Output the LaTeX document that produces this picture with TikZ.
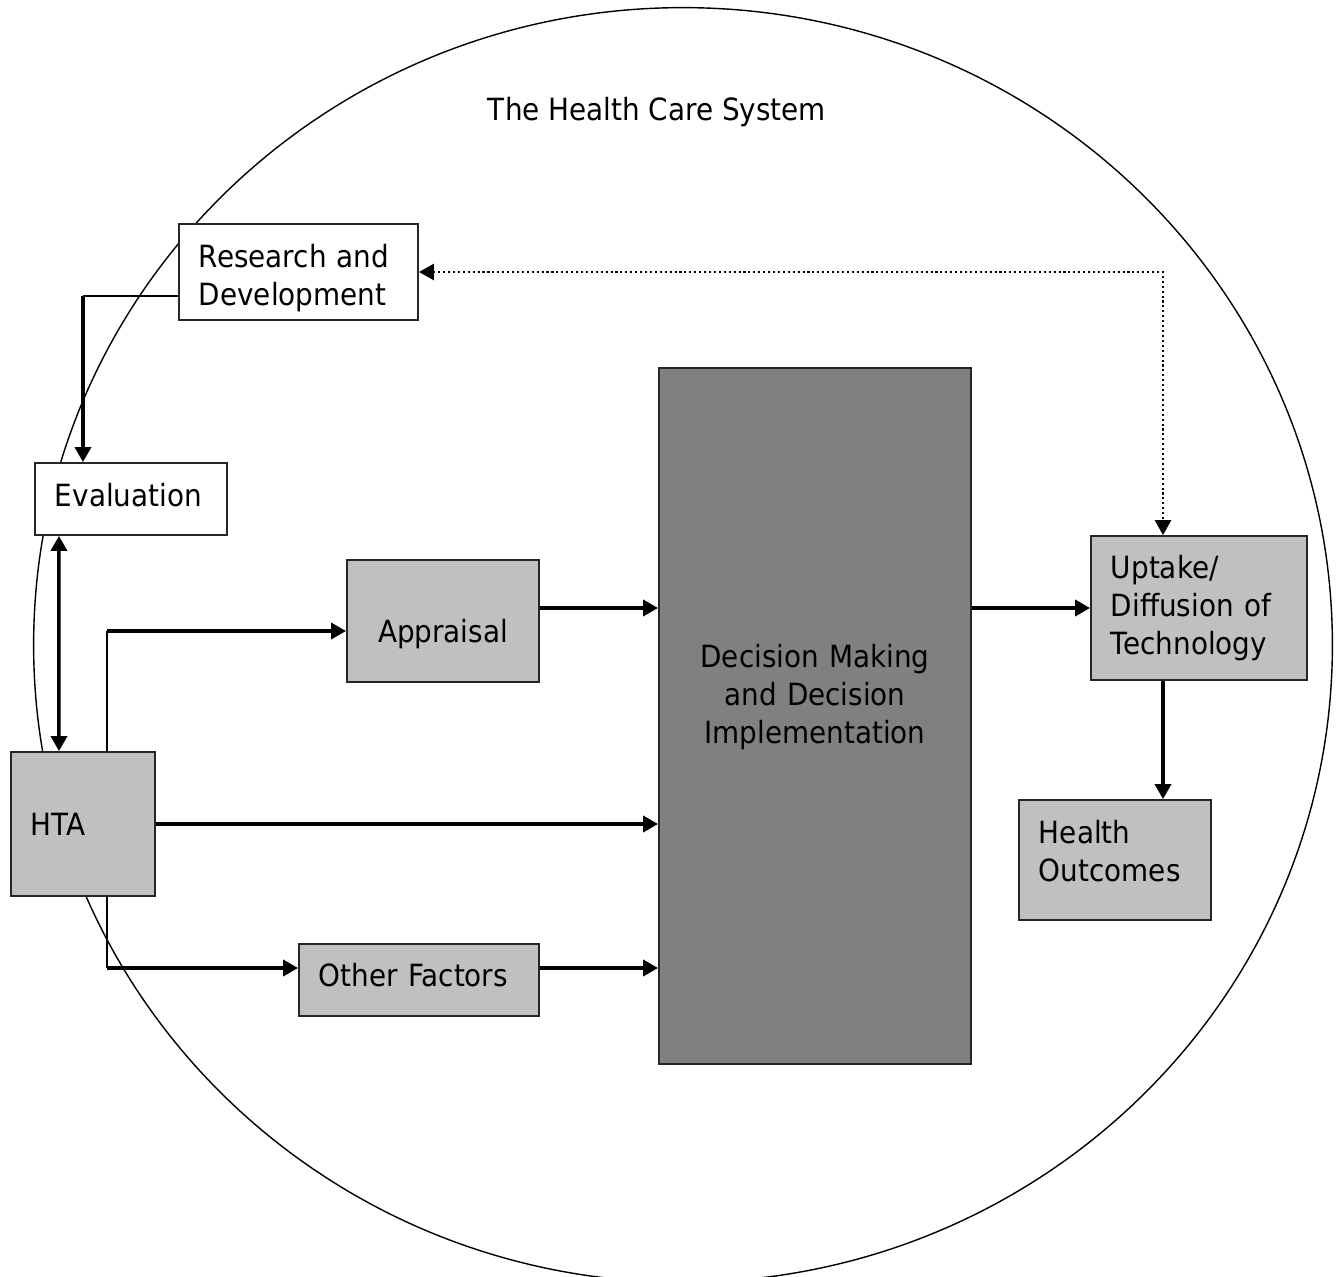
\documentclass[tikz,border=0pt]{standalone}
\usepackage{fontspec}
\setmainfont[FakeStretch=0.91]{DejaVu Sans}
\usetikzlibrary{arrows.meta}
\definecolor{lightfill}{HTML}{C0C0C0}
\definecolor{darkfill}{HTML}{808080}
\tikzset{
  box/.style={draw=black!85, line width=0.5pt, inner xsep=0.2cm, inner ysep=0pt,
    align=left, font=\fontsize{8.7}{10.8}\selectfont},
  greybox/.style={box, fill=lightfill},
  link/.style={line width=0.4pt},
  flow/.style={line width=1pt, -{Triangle[length=0.15cm, width=0.16cm]}},
  twoway/.style={line width=1pt, {Triangle[length=0.15cm, width=0.16cm]}-{Triangle[length=0.15cm, width=0.16cm]}},
  feedback/.style={twoway, line width=0.8pt, dash pattern=on 0.6pt off 0.8pt}
}
\begin{document}
\begin{tikzpicture}[x=0.01cm,y=-0.01cm]
\useasboundingbox (0,0) rectangle (1337,1276);

\draw[line width=0.4pt] (683,645) ellipse [x radius=6.49cm, y radius=6.37cm];
\node[font=\fontsize{8.7}{10.8}\selectfont] (title) at (657,112) {The Health Care System};

\node[box, fill=white, text width=1.99cm, minimum height=0.96cm, text height=0.35cm] (rd) at (298.5,272) {Research and\\Development};
\node[box, fill=white, text width=1.52cm, minimum height=0.72cm, text depth=0.08cm] (eval) at (131,499) {Evaluation};
\node[greybox, text width=1.04cm, minimum height=1.44cm] (hta) at (83,824) {HTA};
\node[greybox, text width=1.52cm, minimum height=1.22cm, text height=0.49cm, align=center] (appr) at (443,621) {Appraisal};
\node[greybox, text width=2.00cm, minimum height=0.72cm, text depth=0.1cm] (other) at (419,980) {Other Factors};
\node[box, fill=darkfill, text width=2.72cm, minimum height=6.96cm, text depth=1.21cm, align=center] (dec) at (815,716) {Decision Making\\and Decision\\Implementation};
\node[greybox, text width=1.76cm, minimum height=1.44cm] (up) at (1199,608) {Uptake/\\Diffusion of\\Technology};
\node[greybox, text width=1.52cm, minimum height=1.20cm, text depth=0.56cm] (out) at (1115,860) {Health\\Outcomes};

% elbow points
\coordinate (rdout) at ([yshift=-0.24cm]rd.west);
\coordinate (evalin) at ([xshift=-0.48cm]eval.north);
\coordinate (htaup) at ([xshift=0.24cm]hta.north);
\coordinate (htadown) at ([xshift=0.24cm]hta.south);
\coordinate (apprin) at ([yshift=-0.1cm]appr.west);
\coordinate (otherin) at ([yshift=0.12cm]other.west);

% connectors
\draw[link] (rdout) -- (rdout -| evalin);
\draw[flow] (rdout -| evalin) -- (evalin);
\draw[twoway] ([xshift=-0.72cm]eval.south) -- ([xshift=-0.24cm]hta.north);
\draw[link] (htaup) -- (htaup |- apprin);
\draw[flow] (htaup |- apprin) -- (apprin);
\draw[flow] (hta.east) -- (hta.east -| dec.west);
\draw[link] (htadown) -- (htadown |- otherin);
\draw[flow] (htadown |- otherin) -- (otherin);
\draw[flow] ([yshift=0.13cm]appr.east) -- ([yshift=0.13cm]appr.east -| dec.west);
\draw[flow] ([yshift=0.12cm]other.east) -- ([yshift=0.12cm]other.east -| dec.west);
\draw[flow] (up.west -| dec.east) -- (up.west);
\draw[flow] ([xshift=-0.36cm]up.south) -- ([xshift=-0.36cm]up.south |- out.north);
\draw[feedback] (rd.east) -| ([xshift=-0.36cm]up.north);
\end{tikzpicture}
\end{document}
